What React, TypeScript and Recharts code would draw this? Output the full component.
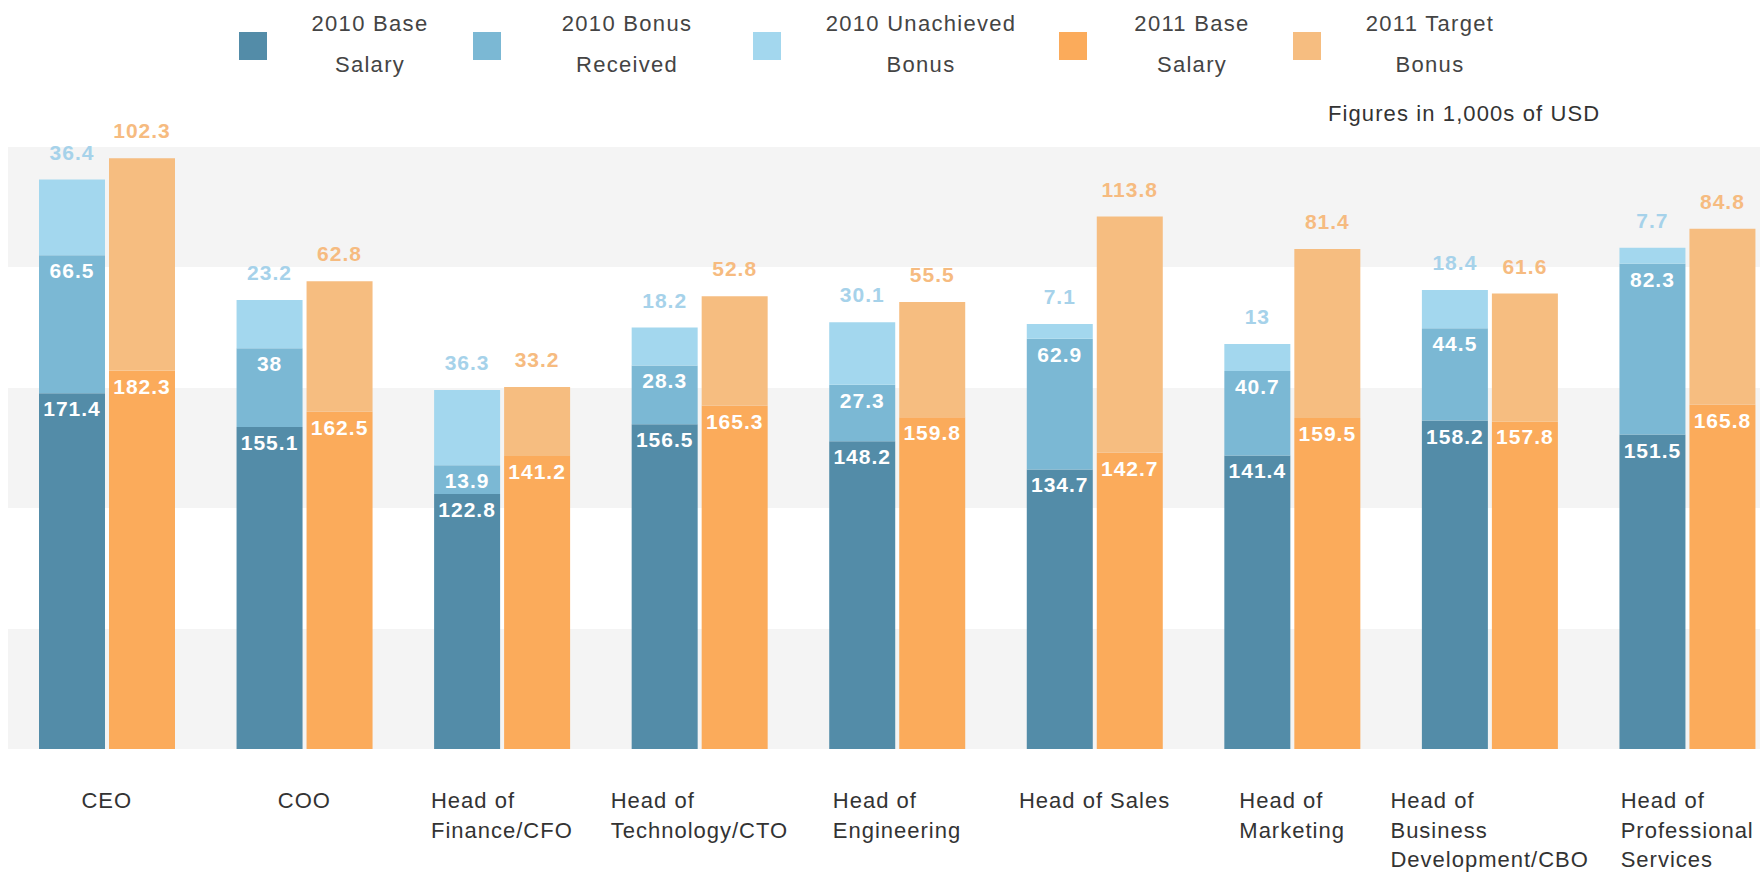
import { BarChart, Bar, XAxis, YAxis, CartesianGrid, LabelList } from "recharts";

const roles = [
  "CEO",
  "COO",
  "Head of\nFinance/CFO",
  "Head of\nTechnology/CTO",
  "Head of\nEngineering",
  "Head of Sales",
  "Head of\nMarketing",
  "Head of\nBusiness\nDevelopment/CBO",
  "Head of\nProfessional\nServices",
];
const base2010 = [171.4, 155.1, 122.8, 156.5, 148.2, 134.7, 141.4, 158.2, 151.5];
const bonus2010 = [66.5, 38, 13.9, 28.3, 27.3, 62.9, 40.7, 44.5, 82.3];
const unachieved2010 = [36.4, 23.2, 36.3, 18.2, 30.1, 7.1, 13, 18.4, 7.7];
const base2011 = [182.3, 162.5, 141.2, 165.3, 159.8, 142.7, 159.5, 157.8, 165.8];
const target2011 = [102.3, 62.8, 33.2, 52.8, 55.5, 113.8, 81.4, 61.6, 84.8];
const yTicks = [0, 58, 116, 174, 232, 290];
const legendLabels = [
  ["2010 Base", "Salary"],
  ["2010 Bonus", "Received"],
  ["2010 Unachieved", "Bonus"],
  ["2011 Base", "Salary"],
  ["2011 Target", "Bonus"],
];
const note = "Figures in 1,000s of USD";

const data = roles.map((role, i) => ({
  role,
  base2010: base2010[i],
  bonus2010: bonus2010[i],
  unachieved2010: unachieved2010[i],
  base2011: base2011[i],
  target2011: target2011[i],
}));

const FONT = '"Liberation Sans", Arial, Helvetica, sans-serif';
const COLORS = ["#538ca8", "#7bb8d4", "#a3d7ee", "#fbab5b", "#f6bd80"];
const TOP_TEXT = { unachieved2010: "#a6d2ea", target2011: "#f6bb80" };

// legend square left edges + text centers (page px)
const LEGEND_SQ = [239, 473, 753, 1059, 1293];
const LEGEND_TX = [370, 627, 921, 1192, 1430];

let ctx: CanvasRenderingContext2D | null = null;
const measure = (s: string) => {
  if (!ctx) ctx = document.createElement("canvas").getContext("2d");
  if (!ctx) return s.length * 11;
  ctx.font = `22px ${FONT}`;
  return ctx.measureText(s).width + s.length * 1;
};

const RoleTick = (props: any) => {
  const { x, y, payload } = props;
  const lines = String(payload.value).split("\n");
  const w = Math.max(...lines.map(measure));
  const left = x - w / 2;
  return (
    <text x={left} y={y} fill="#333" fontSize={22} letterSpacing={1} fontFamily={FONT}>
      {lines.map((l, i) => (
        <tspan key={i} x={left} dy={i === 0 ? 59 : 29.5}>
          {l}
        </tspan>
      ))}
    </text>
  );
};

const insideLabel = (props: any) => {
  const { x, y, width, value } = props;
  return (
    <text
      x={Number(x) + Number(width) / 2}
      y={Number(y) + 23}
      textAnchor="middle"
      fill="#fff"
      fontSize={21}
      fontWeight="bold"
      letterSpacing={1}
      fontFamily={FONT}
    >
      {value}
    </text>
  );
};

const topLabel = (color: string) => (props: any) => {
  const { x, y, width, value } = props;
  return (
    <text
      x={Number(x) + Number(width) / 2}
      y={Number(y) - 20}
      textAnchor="middle"
      fill={color}
      fontSize={21}
      fontWeight="bold"
      letterSpacing={1}
      fontFamily={FONT}
    >
      {value}
    </text>
  );
};

const App = () => {
  return (
    <div
      style={{
        position: "fixed",
        left: 0,
        top: 0,
        width: 1760,
        height: 873,
        overflow: "hidden",
        background: "#fff",
        fontFamily: FONT,
      }}
    >
      {/* legend */}
      {legendLabels.map((lines, i) => (
        <div key={i}>
          <div
            style={{
              position: "absolute",
              left: LEGEND_SQ[i],
              top: 32,
              width: 28,
              height: 28,
              background: COLORS[i],
            }}
          />
          <div
            style={{
              position: "absolute",
              left: LEGEND_TX[i] - 150,
              width: 300,
              top: 3,
              textAlign: "center",
              fontSize: 22,
              lineHeight: "41px",
              letterSpacing: 1.3,
              color: "#444",
              whiteSpace: "nowrap",
            }}
          >
            {lines[0]}
            <br />
            {lines[1]}
          </div>
        </div>
      ))}
      <div
        style={{
          position: "absolute",
          left: 1328,
          top: 98,
          fontSize: 22,
          lineHeight: "31px",
          letterSpacing: 1.1,
          color: "#333",
          whiteSpace: "nowrap",
        }}
      >
        {note}
      </div>

      <div style={{ position: "absolute", left: 0, top: 0 }}>
        <BarChart
          width={1786}
          height={873}
          data={data}
          margin={{ top: 147, right: 0, bottom: 0, left: 8 }}
          barCategoryGap={31}
          barGap={4}
        >
          <CartesianGrid
            vertical={false}
            stroke="none"
            horizontalFill={["#f4f4f4", "#ffffff"]}
            fillOpacity={1}
          />
          <XAxis
            dataKey="role"
            height={124}
            axisLine={false}
            tickLine={false}
            tickSize={0}
            tickMargin={0}
            interval={0}
            tick={<RoleTick />}
          />
          <YAxis hide domain={[0, 290]} ticks={yTicks} />
          <Bar dataKey="base2010" stackId="a" fill={COLORS[0]} isAnimationActive={false}>
            <LabelList dataKey="base2010" content={insideLabel} />
          </Bar>
          <Bar dataKey="bonus2010" stackId="a" fill={COLORS[1]} isAnimationActive={false}>
            <LabelList dataKey="bonus2010" content={insideLabel} />
          </Bar>
          <Bar dataKey="unachieved2010" stackId="a" fill={COLORS[2]} isAnimationActive={false}>
            <LabelList dataKey="unachieved2010" content={topLabel(TOP_TEXT.unachieved2010)} />
          </Bar>
          <Bar dataKey="base2011" stackId="b" fill={COLORS[3]} isAnimationActive={false}>
            <LabelList dataKey="base2011" content={insideLabel} />
          </Bar>
          <Bar dataKey="target2011" stackId="b" fill={COLORS[4]} isAnimationActive={false}>
            <LabelList dataKey="target2011" content={topLabel(TOP_TEXT.target2011)} />
          </Bar>
        </BarChart>
      </div>
    </div>
  );
};

export default App;
